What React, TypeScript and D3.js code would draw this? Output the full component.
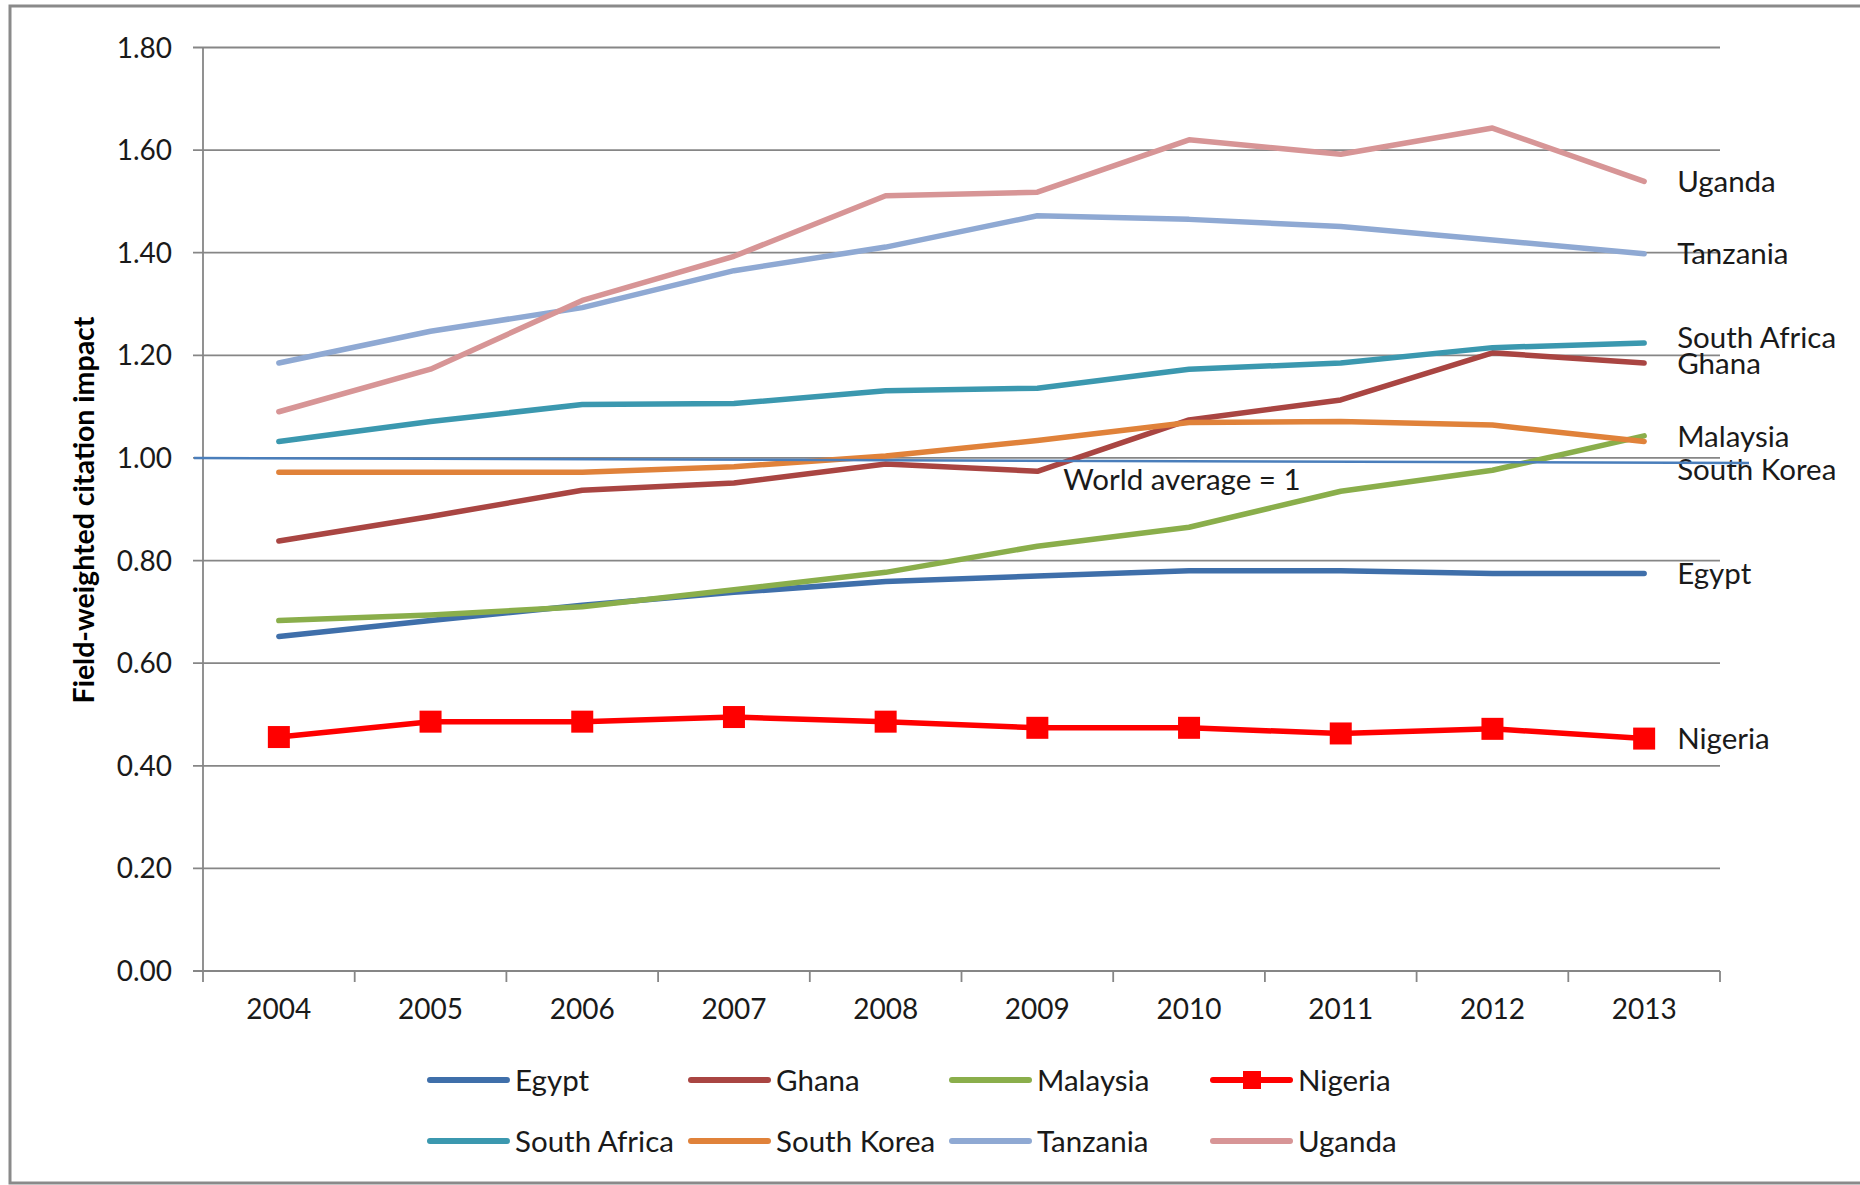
import React, { useEffect, useRef } from "react";
import * as d3 from "d3";

const years = ["2004", "2005", "2006", "2007", "2008", "2009", "2010", "2011", "2012", "2013"];
const yTicks = [0, 0.2, 0.4, 0.6, 0.8, 1.0, 1.2, 1.4, 1.6, 1.8];

const egypt = [0.652, 0.683, 0.713, 0.738, 0.759, 0.77, 0.78, 0.78, 0.775, 0.775];
const ghana = [0.838, 0.886, 0.937, 0.951, 0.988, 0.974, 1.074, 1.113, 1.205, 1.185];
const malaysia = [0.683, 0.694, 0.71, 0.743, 0.777, 0.828, 0.865, 0.935, 0.976, 1.043];
const nigeria = [0.456, 0.486, 0.486, 0.495, 0.486, 0.474, 0.474, 0.463, 0.472, 0.453];
const southAfrica = [1.032, 1.071, 1.104, 1.106, 1.131, 1.136, 1.173, 1.185, 1.215, 1.224];
const southKorea = [0.972, 0.972, 0.972, 0.983, 1.004, 1.034, 1.069, 1.071, 1.064, 1.032];
const tanzania = [1.185, 1.247, 1.293, 1.365, 1.411, 1.472, 1.465, 1.451, 1.425, 1.398];
const uganda = [1.09, 1.173, 1.307, 1.393, 1.511, 1.518, 1.62, 1.592, 1.643, 1.539];

const seriesNames = ["Egypt", "Ghana", "Malaysia", "Nigeria", "South Africa", "South Korea", "Tanzania", "Uganda"];
const seriesValues = [egypt, ghana, malaysia, nigeria, southAfrica, southKorea, tanzania, uganda];
const seriesColors = ["#3f6faa", "#a94542", "#8aae4b", "#ff0000", "#3b98af", "#e0823a", "#8fa9d3", "#d79596"];

// world average reference line (starts at 1, drifts a hair at the right end as in the source)
const worldAverage = [1.0, 0.99];
const worldLabel = "World average = 1";

const FONT = "Lato, 'Open Sans', sans-serif";

const App = () => {
  const svgRef = useRef(null);

  useEffect(() => {
    const svg = d3.select(svgRef.current);
    svg.selectAll("*").remove();

    const W = 1860;
    const H = 1185;
    const left = 203;
    const right = 1720;
    const top = 47.5;
    const bottom = 971;

    svg.attr("width", W).attr("height", H);

    // outer frame
    svg
      .append("rect")
      .attr("x", 10)
      .attr("y", 6)
      .attr("width", 1880)
      .attr("height", 1177)
      .attr("fill", "#fff")
      .attr("stroke", "#8a8a8a")
      .attr("stroke-width", 3);

    const x = d3.scaleBand().domain(years).range([left, right]).padding(0);
    const cx = (yr) => x(yr) + x.bandwidth() / 2;
    const y = d3.scaleLinear().domain([0, 1.8]).range([bottom, top]);

    // gridlines + y ticks
    const grid = svg.append("g");
    yTicks.forEach((t) => {
      grid
        .append("line")
        .attr("x1", left - 10)
        .attr("x2", right)
        .attr("y1", y(t))
        .attr("y2", y(t))
        .attr("stroke", "#868686")
        .attr("stroke-width", 1.8);
      grid
        .append("text")
        .attr("x", left - 31)
        .attr("y", y(t))
        .attr("dy", "0.36em")
        .attr("text-anchor", "end")
        .style("font-family", FONT)
        .style("font-size", "28px")
        .style("fill", "#1a1a1a")
        .text(d3.format(".2f")(t));
    });

    // y axis line
    svg
      .append("line")
      .attr("x1", left)
      .attr("x2", left)
      .attr("y1", top)
      .attr("y2", bottom)
      .attr("stroke", "#868686")
      .attr("stroke-width", 1.8);

    // x ticks (band edges) and labels
    const edges = years.map((yr) => x(yr)).concat([right]);
    edges.forEach((ex) => {
      svg
        .append("line")
        .attr("x1", ex)
        .attr("x2", ex)
        .attr("y1", bottom)
        .attr("y2", bottom + 11)
        .attr("stroke", "#868686")
        .attr("stroke-width", 1.8);
    });
    years.forEach((yr) => {
      svg
        .append("text")
        .attr("x", cx(yr))
        .attr("y", bottom + 38)
        .attr("dy", "0.36em")
        .attr("text-anchor", "middle")
        .style("font-family", FONT)
        .style("font-size", "28px")
        .style("fill", "#1a1a1a")
        .text(yr);
    });

    // y axis title
    svg
      .append("text")
      .attr("transform", `translate(84, 510) rotate(-90)`)
      .attr("dy", "0.36em")
      .attr("text-anchor", "middle")
      .style("font-family", FONT)
      .style("font-size", "28.5px")
      .style("font-weight", "bold")
      .style("fill", "#000")
      .text("Field-weighted citation impact");

    // series lines
    const line = d3
      .line()
      .x((d, i) => cx(years[i]))
      .y((d) => y(d));

    seriesNames.forEach((name, si) => {
      const vals = seriesValues[si];
      svg
        .append("path")
        .datum(vals)
        .attr("d", line)
        .attr("fill", "none")
        .attr("stroke", seriesColors[si])
        .attr("stroke-width", 5.5)
        .attr("stroke-linejoin", "round")
        .attr("stroke-linecap", "round");

      if (name === "Nigeria") {
        svg
          .append("g")
          .selectAll("rect")
          .data(vals)
          .join("rect")
          .attr("x", (d, i) => cx(years[i]) - 11)
          .attr("y", (d) => y(d) - 11)
          .attr("width", 22)
          .attr("height", 22)
          .attr("fill", seriesColors[si]);
      }
    });

    // end labels
    const labelNudge = { "South Africa": -6, "South Korea": 28 };
    seriesNames.forEach((name, si) => {
      const vals = seriesValues[si];
      svg
        .append("text")
        .attr("x", cx(years[years.length - 1]) + 33)
        .attr("y", y(vals[vals.length - 1]) + (labelNudge[name] || 0))
        .attr("dy", "0.36em")
        .style("font-family", FONT)
        .style("font-size", "29.5px")
        .style("fill", "#1a1a1a")
        .text(name);
    });

    // world average line + label
    svg
      .append("line")
      .attr("x1", left - 9)
      .attr("x2", right + 29)
      .attr("y1", y(worldAverage[0]))
      .attr("y2", y(worldAverage[1]))
      .attr("stroke", "#4a7ebb")
      .attr("stroke-width", 2.5);

    svg
      .append("text")
      .attr("x", cx("2009") + 26)
      .attr("y", y(worldAverage[0]) + 21)
      .attr("dy", "0.36em")
      .style("font-family", FONT)
      .style("font-size", "29.5px")
      .style("fill", "#1a1a1a")
      .text(worldLabel);

    // legend
    const legend = svg.append("g").attr("transform", "translate(427, 1080)");
    seriesNames.forEach((name, i) => {
      const col = i % 4;
      const row = Math.floor(i / 4);
      const g = legend.append("g").attr("transform", `translate(${col * 261}, ${row * 61})`);
      g.append("line")
        .attr("x1", 3)
        .attr("x2", 80)
        .attr("y1", 0)
        .attr("y2", 0)
        .attr("stroke", seriesColors[i])
        .attr("stroke-width", 6)
        .attr("stroke-linecap", "round");
      if (name === "Nigeria") {
        g.append("rect")
          .attr("x", 33)
          .attr("y", -9)
          .attr("width", 18)
          .attr("height", 18)
          .attr("fill", seriesColors[i]);
      }
      g.append("text")
        .attr("x", 88)
        .attr("y", 0)
        .attr("dy", "0.36em")
        .style("font-family", FONT)
        .style("font-size", "29.5px")
        .style("fill", "#1a1a1a")
        .text(name);
    });
  }, []);

  return (
    <div style={{ position: "absolute", left: 0, top: 0 }}>
      <svg ref={svgRef} style={{ display: "block" }}></svg>
    </div>
  );
};

export default App;
